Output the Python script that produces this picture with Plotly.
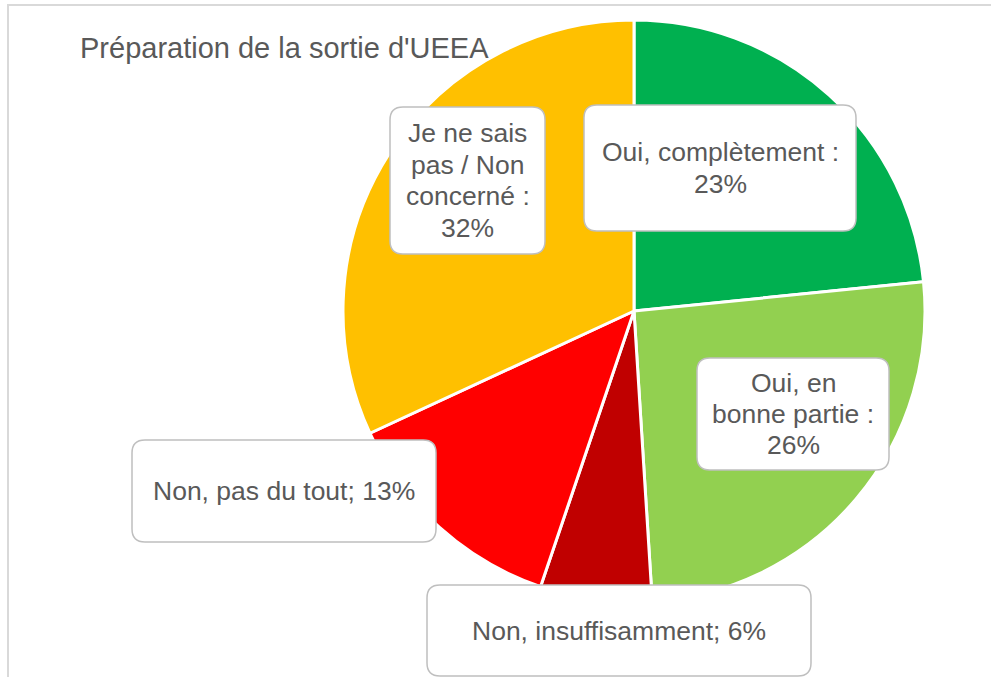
import plotly.graph_objects as go

# ---- data ----
categories = ["Oui, complètement", "Oui, en bonne partie", "Non, insuffisamment",
              "Non, pas du tout", "Je ne sais pas / Non concerné"]
values = [23.4, 25.6, 6.2, 12.9, 31.9]
colors = ["#00B050", "#92D050", "#C00000", "#FF0000", "#FFC000"]
title_text = "Préparation de la sortie d'UEEA"

# ---- layout helpers (pixel -> paper) ----
W, H = 991, 677


def fx(x):
    return x / W


def fy(y):
    return 1 - y / H


def rounded_rect(x0, y0, x1, y1, r=13):
    return (f"M {fx(x0 + r)},{fy(y0)} L {fx(x1 - r)},{fy(y0)} "
            f"Q {fx(x1)},{fy(y0)} {fx(x1)},{fy(y0 + r)} "
            f"L {fx(x1)},{fy(y1 - r)} Q {fx(x1)},{fy(y1)} {fx(x1 - r)},{fy(y1)} "
            f"L {fx(x0 + r)},{fy(y1)} Q {fx(x0)},{fy(y1)} {fx(x0)},{fy(y1 - r)} "
            f"L {fx(x0)},{fy(y0 + r)} Q {fx(x0)},{fy(y0)} {fx(x0 + r)},{fy(y0)} Z")


# label box placement (pixels): x0, y0, x1, y1
boxes = [
    (584, 105, 856, 231),
    (697, 358, 889, 470),
    (427, 585, 811, 676),
    (132, 440, 436, 542),
    (390, 107, 545, 254),
]

label_lines = [
    ["Oui, complètement :", f"{round(values[0])}%"],
    ["Oui, en", "bonne partie :", f"{round(values[1])}%"],
    [f"Non, insuffisamment; {round(values[2])}%"],
    [f"Non, pas du tout; {round(values[3])}%"],
    ["Je ne sais", "pas / Non", "concerné :", f"{round(values[4])}%"],
]
LINE_H = 31.5
FONT = "Liberation Sans, Arial, sans-serif"

fig = go.Figure()
fig.add_trace(go.Pie(
    labels=categories,
    values=values,
    sort=False,
    direction="clockwise",
    rotation=0,
    marker=dict(colors=colors, line=dict(color="white", width=3)),
    textinfo="none",
    hoverinfo="label+percent",
    showlegend=False,
    domain=dict(x=[fx(343), fx(925)], y=[fy(602), fy(20)]),
))

shapes = []
# chart area border (top and left visible)
shapes.append(dict(type="path", xref="paper", yref="paper",
                   path=f"M {fx(8)},{fy(690)} L {fx(8)},{fy(5)} L {fx(1000)},{fy(5)}",
                   line=dict(color="#D9D9D9", width=2)))
annotations = []
for (x0, y0, x1, y1), lines in zip(boxes, label_lines):
    shapes.append(dict(type="path", xref="paper", yref="paper",
                       path=rounded_rect(x0, y0, x1, y1),
                       fillcolor="white", line=dict(color="#BFBFBF", width=1.5),
                       layer="above"))
    cx, cy = (x0 + x1) / 2, (y0 + y1) / 2
    n = len(lines)
    for i, t in enumerate(lines):
        ly = cy + (i - (n - 1) / 2) * LINE_H
        annotations.append(dict(x=fx(cx), y=fy(ly),
                                xref="paper", yref="paper", text=t, showarrow=False,
                                xanchor="center", yanchor="middle", align="center",
                                font=dict(family=FONT, size=26.5, color="#595959")))

annotations.append(dict(x=fx(78), y=fy(48), xref="paper", yref="paper",
                        text=title_text, showarrow=False, xanchor="left",
                        yanchor="middle",
                        font=dict(family=FONT, size=29, color="#595959")))

fig.update_layout(
    width=W, height=H,
    margin=dict(l=0, r=0, t=0, b=0),
    paper_bgcolor="white",
    plot_bgcolor="white",
    shapes=shapes,
    annotations=annotations,
)

fig.write_html("out.html",
               config={"displayModeBar": False},
               post_script="document.body.style.margin='0';document.body.style.overflow='hidden';")
